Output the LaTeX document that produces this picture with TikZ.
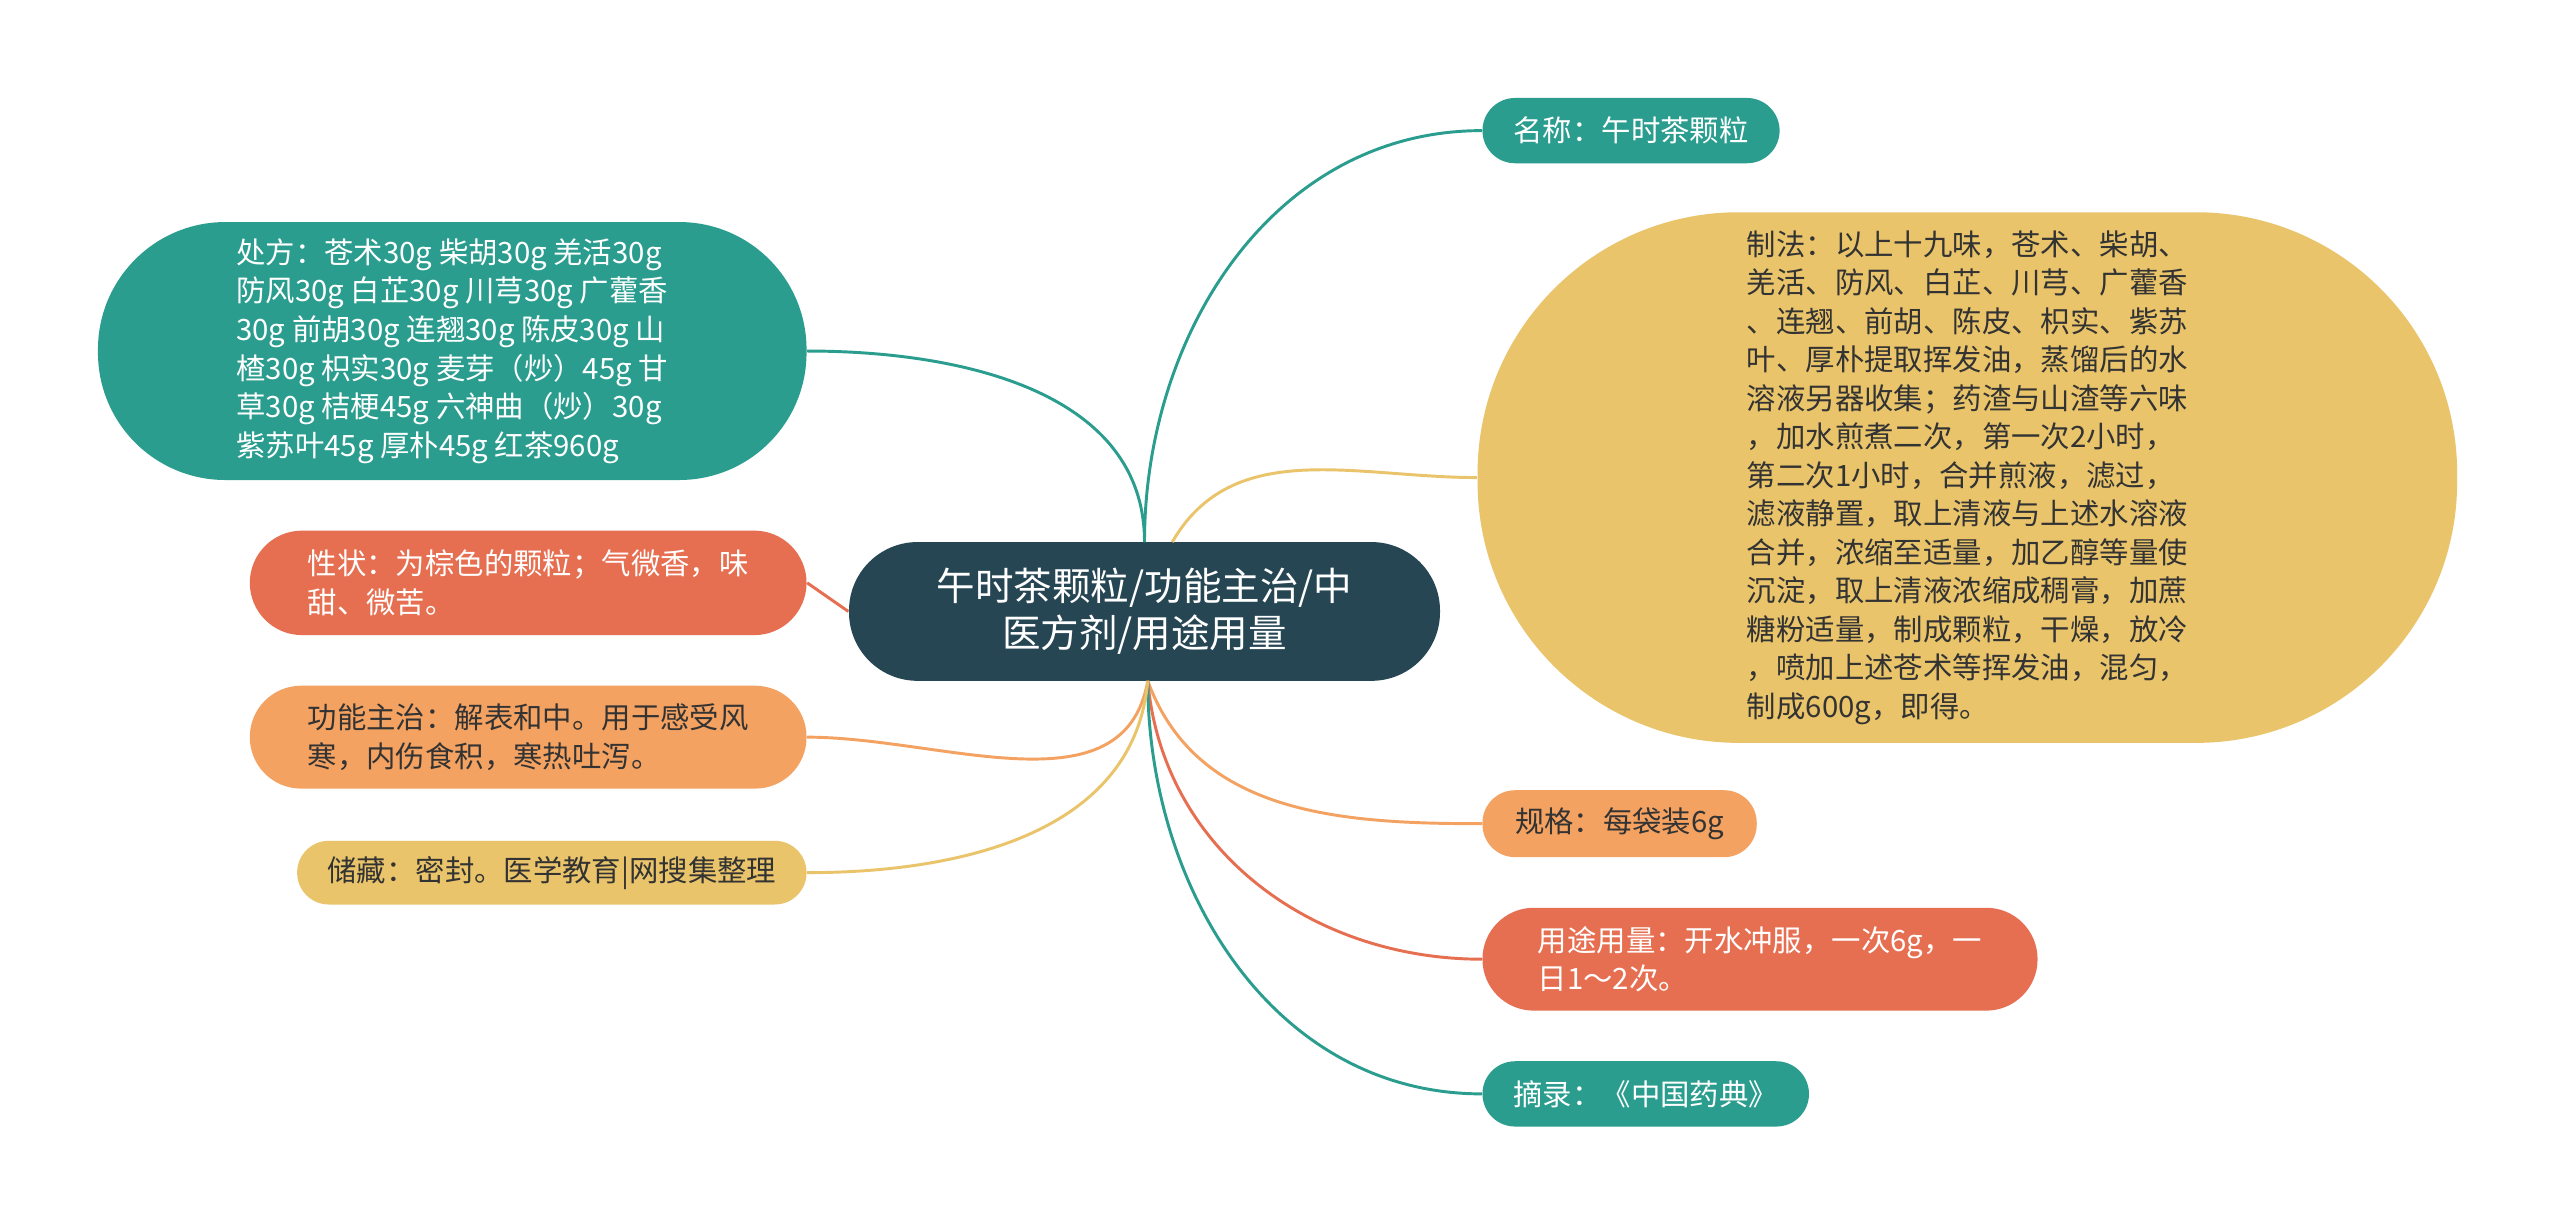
\documentclass[tikz,border=0pt]{standalone}
\usepackage{fontspec}
\setmainfont{Noto Sans CJK SC}
\definecolor{teal}{HTML}{2A9D8F}
\definecolor{dark}{HTML}{264653}
\definecolor{yel}{HTML}{E9C46A}
\definecolor{ora}{HTML}{F4A261}
\definecolor{red}{HTML}{E76F51}
\tikzset{
 box/.style={rectangle, inner sep=0pt, align=left, font=\fontsize{9pt}{11.8pt}\selectfont, text=white},
 link/.style={line width=0.9pt},
}
\begin{document}
\begin{tikzpicture}[x=0.5pt,y=-0.5pt]
\useasboundingbox[fill=white] (0,0) rectangle (1568,750);
\node[box, fill=dark, minimum width=181pt, minimum height=42.5pt, rounded corners=21pt, align=center, font=\fontsize{11.8pt}{14.5pt}\selectfont] (c) at (701,374.5) {午时茶颗粒/功能主治/中\\医方剂/用途用量};
\node[box, fill=teal, minimum width=91pt, minimum height=20pt, rounded corners=10pt] (n1) at (999,80) {名称：午时茶颗粒};
\node[box, fill=yel, minimum width=300pt, minimum height=162.5pt, rounded corners=80pt, text=black!80] (n2) at (1205,292.5) {制法：以上十九味，苍术、柴胡、\\羌活、防风、白芷、川芎、广藿香\\、连翘、前胡、陈皮、枳实、紫苏\\叶、厚朴提取挥发油，蒸馏后的水\\溶液另器收集；药渣与山渣等六味\\，加水煎煮二次，第一次2小时，\\第二次1小时，合并煎液，滤过，\\滤液静置，取上清液与上述水溶液\\合并，浓缩至适量，加乙醇等量使\\沉淀，取上清液浓缩成稠膏，加蔗\\糖粉适量，制成颗粒，干燥，放冷\\，喷加上述苍术等挥发油，混匀，\\制成600g，即得。};
\node[box, fill=ora, minimum width=84pt, minimum height=20.5pt, rounded corners=10pt, text=black!80] (n3) at (992,504.5) {规格：每袋装6g};
\node[box, fill=red, minimum width=170pt, minimum height=31.5pt, rounded corners=15.7pt] (n4) at (1078,587.5) {用途用量：开水冲服，一次6g，一\\日1～2次。};
\node[box, fill=teal, minimum width=100pt, minimum height=20pt, rounded corners=10pt] (n5) at (1008,670) {摘录：《中国药典》};
\node[box, fill=teal, minimum width=217pt, minimum height=79pt, rounded corners=39pt] (l1) at (277,215) {处方：苍术30g 柴胡30g 羌活30g\\防风30g 白芷30g 川芎30g 广藿香\\30g 前胡30g 连翘30g 陈皮30g 山\\楂30g 枳实30g 麦芽（炒）45g 甘\\草30g 桔梗45g 六神曲（炒）30g\\紫苏叶45g 厚朴45g 红茶960g};
\node[box, fill=red, minimum width=170.5pt, minimum height=32pt, rounded corners=16pt] (l2) at (323.5,357) {性状：为棕色的颗粒；气微香，味\\甜、微苦。};
\node[box, fill=ora, minimum width=170.5pt, minimum height=31.5pt, rounded corners=15.7pt, text=black!80] (l3) at (323.5,451.5) {功能主治：解表和中。用于感受风\\寒，内伤食积，寒热吐泻。};
\node[box, fill=yel, minimum width=156pt, minimum height=19.5pt, rounded corners=9.7pt, text=black!80] (l4) at (338,534.5) {储藏：密封。医学教育|网搜集整理};
\coordinate (t) at (701,332);
\coordinate (t2) at (718,332);
\coordinate (b) at (703,417);
\draw[link, teal] (t) to[out=90,in=180] (n1.west);
\draw[link, yel] (t2) to[out=60,in=180] (n2.west);
\draw[link, ora] (b) to[out=-70,in=180] (n3.west);
\draw[link, red] (b) to[out=-85,in=180] (n4.west);
\draw[link, teal] (b) to[out=-90,in=180] (n5.west);
\draw[link, teal] (t) to[out=90,in=0] (l1.east);
\draw[link, red] (c.west) -- (l2.east);
\draw[link, ora] (b) to[out=-100,in=0] (l3.east);
\draw[link, yel] (b) to[out=-95,in=0] (l4.east);
\end{tikzpicture}
\end{document}
